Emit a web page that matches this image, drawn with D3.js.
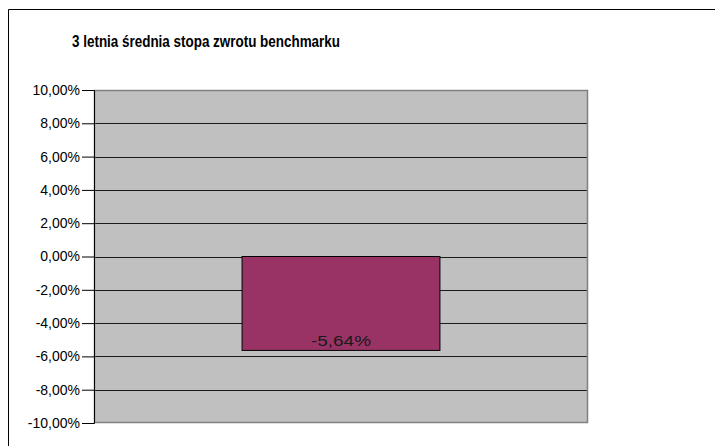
<!DOCTYPE html>
<html lang="pl">
<head>
  <meta charset="UTF-8">
  <title>3 letnia średnia stopa zwrotu benchmarku</title>
  <script src="https://d3js.org/d3.v7.min.js"></script>
  <style>
    body { margin: 0; background: #fff; font-family: 'Liberation Sans', Arial, sans-serif; }
  </style>
</head>
<body>
  <svg id="chart" width="715" height="446"></svg>
  <script>
    const categories = ["benchmark"];
    const values = [-5.64];
    const tickValues = [-10, -8, -6, -4, -2, 0, 2, 4, 6, 8, 10];
    const title = "3 letnia średnia stopa zwrotu benchmarku";

    const svg = d3.select("#chart");
    const margin = { top: 90, left: 94, right: 127, bottom: 23 };
    const width = 715 - margin.left - margin.right;
    const height = 446 - margin.top - margin.bottom;

    const fmt = d => d3.format(".2f")(d).replace(".", ",").replace("−", "-") + "%";

    // outer frame
    svg.append("path")
      .attr("d", "M8.5,446 V9.5 H715")
      .attr("fill", "none").attr("stroke", "#000").attr("stroke-width", 1);

    svg.append("text")
      .attr("x", 72).attr("y", 47)
      .attr("font-size", "16.5px").attr("font-weight", "bold")
      .attr("textLength", 268).attr("lengthAdjust", "spacingAndGlyphs")
      .text(title);

    const g = svg.append("g").attr("transform", `translate(${margin.left},${margin.top})`);

    const x = d3.scaleBand().domain(categories).range([0, width]).padding(0.428);
    const y = d3.scaleLinear().domain([-10, 10]).range([height, 0]);

    g.append("rect")
      .attr("width", width).attr("height", height)
      .attr("fill", "#c0c0c0");

    g.append("g").selectAll("line")
      .data(tickValues.filter(d => d !== -10 && d !== 10))
      .enter().append("line")
      .attr("x1", 0).attr("x2", width)
      .attr("y1", d => Math.round(y(d)) + 0.5).attr("y2", d => Math.round(y(d)) + 0.5)
      .attr("stroke", "#1a1a1a");

    g.append("rect")
      .attr("x", 0.5).attr("y", 0.5)
      .attr("width", width - 1).attr("height", height - 1)
      .attr("fill", "none").attr("stroke", "#808080").attr("stroke-width", 1.5);

    const axis = g.append("g")
      .call(d3.axisLeft(y).tickValues(tickValues).tickSize(12).tickPadding(2).tickFormat(fmt))
      .attr("font-size", 14)
      .attr("font-family", "'Liberation Sans', Arial, sans-serif");
    axis.select(".domain").attr("stroke", "#000");
    axis.selectAll(".tick line").attr("stroke", "#000");
    axis.selectAll(".tick text").attr("fill", "#000");

    g.selectAll(".bar")
      .data(values)
      .enter().append("rect")
      .attr("class", "bar")
      .attr("x", (d, i) => x(categories[i]))
      .attr("y", d => y(Math.max(0, d)))
      .attr("width", x.bandwidth())
      .attr("height", d => Math.abs(y(d) - y(0)))
      .attr("fill", "#993366").attr("stroke", "#000").attr("stroke-width", 1);

    g.selectAll(".bar-label")
      .data(values)
      .enter().append("text")
      .attr("x", (d, i) => x(categories[i]) + x.bandwidth() / 2 - 30)
      .attr("y", d => y(d) - 4)
      .attr("font-size", "15.5px").attr("fill", "#1a1a1a")
      .attr("textLength", 60).attr("lengthAdjust", "spacingAndGlyphs")
      .text(fmt);
  </script>
</body>
</html>
